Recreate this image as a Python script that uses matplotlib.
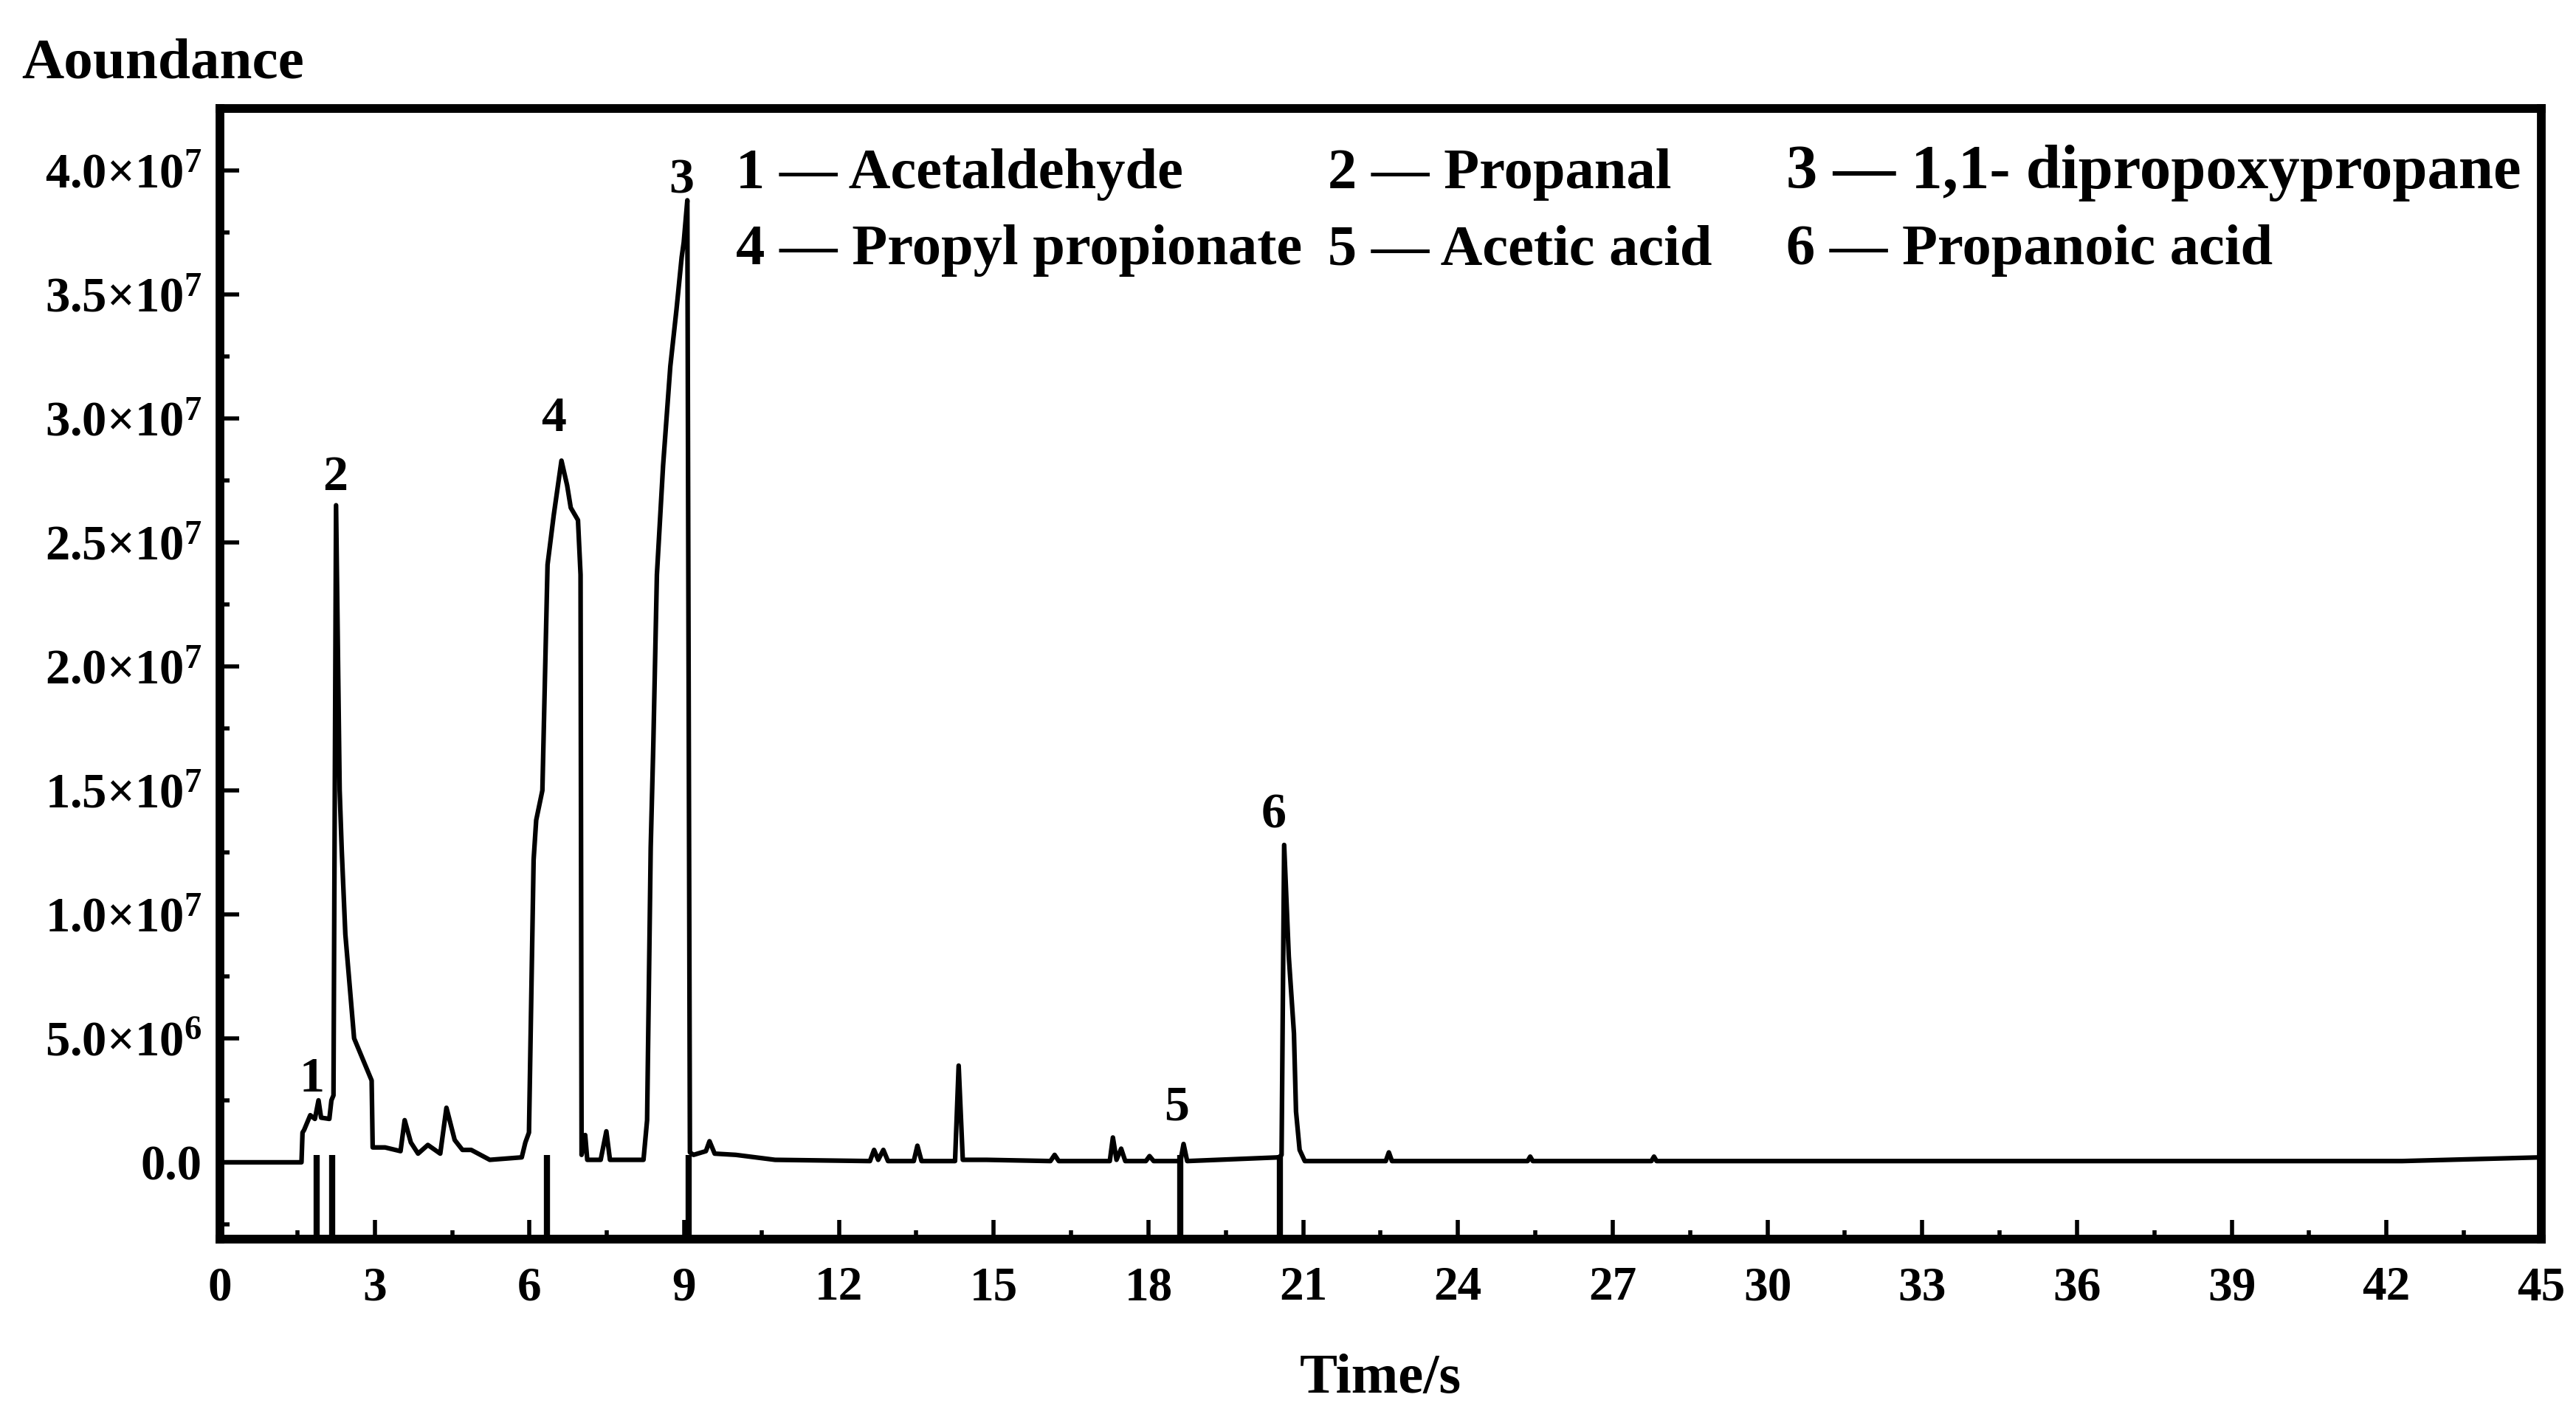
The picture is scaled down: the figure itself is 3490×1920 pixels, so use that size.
import matplotlib
matplotlib.use("Agg")
import matplotlib.pyplot as plt
from matplotlib.ticker import MultipleLocator, FuncFormatter

plt.rcParams["font.family"] = ["Liberation Serif", "DejaVu Serif"]
plt.rcParams["font.weight"] = "bold"
plt.rcParams["mathtext.fontset"] = "custom"
plt.rcParams["mathtext.rm"] = "Liberation Serif:bold"
plt.rcParams["mathtext.it"] = "Liberation Serif:bold:italic"
plt.rcParams["mathtext.bf"] = "Liberation Serif:bold"

# chromatogram trace (time, abundance in 1e6)
TIME = [0.00, 1.58, 1.60, 1.63, 1.75, 1.84, 1.91, 1.96, 2.12, 2.16, 2.20, 2.25,
        2.32, 2.36, 2.43, 2.60, 2.94, 2.96, 3.20, 3.50, 3.58, 3.70, 3.84, 4.03,
        4.27, 4.39, 4.55, 4.70, 4.87, 5.23, 5.85, 5.92, 5.99, 6.08, 6.13, 6.25,
        6.35, 6.47, 6.62, 6.73, 6.80, 6.94, 6.99, 7.01, 7.08, 7.12, 7.38, 7.49,
        7.56, 8.21, 8.28, 8.35, 8.40, 8.47, 8.59, 8.73, 8.85, 8.95, 8.99, 9.06,
        9.11, 9.18, 9.42, 9.49, 9.59, 10.00, 10.76, 12.60, 12.68, 12.76, 12.86,
        12.95, 13.45, 13.52, 13.60, 14.25, 14.32, 14.40, 14.86, 16.10, 16.18,
        16.26, 17.25, 17.31, 17.38, 17.47, 17.55, 17.95, 18.02, 18.10, 18.62,
        18.68, 18.75, 20.53, 20.58, 20.63, 20.72, 20.82, 20.86, 20.93, 21.03,
        22.60, 22.66, 22.72, 25.35, 25.40, 25.45, 27.75, 27.80, 27.85, 42.30,
        45.00]
ABUND = [0.00, 0.00, 1.20, 1.30, 1.90, 1.75, 2.50, 1.80, 1.75, 2.50, 2.70, 26.50,
         15.00, 12.60, 9.20, 5.00, 3.30, 0.60, 0.60, 0.45, 1.70, 0.80, 0.35, 0.70,
         0.35, 2.20, 0.90, 0.50, 0.50, 0.10, 0.20, 0.80, 1.20, 12.20, 13.80, 15.00,
         24.10, 26.10, 28.30, 27.30, 26.40, 25.90, 23.70, 0.30, 1.10, 0.10, 0.10, 1.25,
         0.10, 0.10, 1.70, 12.70, 16.80, 23.70, 28.10, 32.10, 34.40, 36.50, 37.10, 38.80,
         0.40, 0.30, 0.45, 0.85, 0.35, 0.30, 0.10, 0.05, 0.50, 0.10, 0.50,
         0.05, 0.05, 0.67, 0.05, 0.05, 3.90, 0.10, 0.10, 0.05, 0.30,
         0.05, 0.05, 1.00, 0.10, 0.55, 0.05, 0.05, 0.25, 0.05, 0.05,
         0.74, 0.05, 0.20, 0.30, 12.80, 8.30, 5.20, 2.05, 0.50, 0.05,
         0.05, 0.40, 0.05, 0.05, 0.23, 0.05, 0.05, 0.23, 0.05, 0.05,
         0.20]

# identified compounds: retention marker, label position
PEAK_IDS = ["1", "2", "3", "4", "5", "6"]
MARK_TIME = [1.87, 2.18, 9.08, 6.34, 18.62, 20.55]
LABEL_X = [1.78, 2.23, 8.95, 6.47, 18.55, 20.43]
LABEL_Y = [2.85, 27.1, 39.1, 29.5, 1.7, 13.5]
NAMES = ["Acetaldehyde", "Propanal", "1,1- dipropoxypropane",
         "Propyl propionate", "Acetic acid", "Propanoic acid"]
KEY_SIZE = [56.5, 56.5, 61, 56.5, 56.5, 56.5]

Y_MIN, Y_MAX = -3.1e6, 42.5e6


def sci_label(v, pos):
    if abs(v) < 1:
        return "0.0"
    exp = len(str(int(round(v)))) - 1
    mant = v / 10 ** exp
    return rf"${mant:.1f}{{\times}}10^{{{exp}}}$"


fig = plt.figure(figsize=(34.9, 19.2), dpi=100)
ax = fig.add_axes([0.0854, 0.1255, 0.9011, 0.7979])

ax.plot(TIME, [a * 1e6 for a in ABUND], color="black", lw=4.5,
        solid_joinstyle="round")
ax.vlines(MARK_TIME, Y_MIN, 0.3e6, color="black", lw=6)

for pid, lx, ly in zip(PEAK_IDS, LABEL_X, LABEL_Y):
    ax.text(lx, ly * 1e6, pid, ha="center", va="baseline", fontsize=49,
            fontweight="bold")

# compound key, two rows of three
col_x = [0.2857, 0.5155, 0.6934]
row_y = [0.8672, 0.8135]
for i, (pid, name) in enumerate(zip(PEAK_IDS, NAMES)):
    fig.text(col_x[i % 3], row_y[i // 3], f"{pid} \u2014 {name}", ha="left",
             va="baseline", fontsize=KEY_SIZE[i], fontweight="bold")

ax.set_xlim(0, 45)
ax.set_ylim(Y_MIN, Y_MAX)
ax.xaxis.set_major_locator(MultipleLocator(3))
ax.xaxis.set_minor_locator(MultipleLocator(1.5))
ax.yaxis.set_major_locator(MultipleLocator(5e6))
ax.yaxis.set_minor_locator(MultipleLocator(2.5e6))
ax.yaxis.set_major_formatter(FuncFormatter(sci_label))

for sp in ax.spines.values():
    sp.set_linewidth(8.5)
ax.tick_params(which="both", direction="in", top=False, right=False)
ax.tick_params(axis="x", which="major", length=19, width=4, pad=26,
               labelsize=47)
ax.tick_params(axis="y", which="major", length=19, width=4, pad=18,
               labelsize=48)
ax.tick_params(which="minor", length=9, width=4)
for lab in ax.get_xticklabels() + ax.get_yticklabels():
    lab.set_fontweight("bold")

ax.set_xlabel("Time/s", fontsize=55, fontweight="bold", va="baseline")
ax.xaxis.set_label_coords(0.5, -0.136)
fig.text(29 / 3490, 1 - 106 / 1920, "Aoundance", ha="left", va="baseline",
         fontsize=57, fontweight="bold")

fig.savefig("out.png", dpi=100)
